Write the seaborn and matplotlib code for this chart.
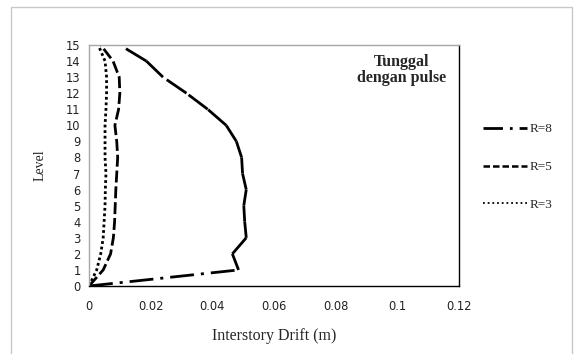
import matplotlib
matplotlib.use("Agg")
import matplotlib.pyplot as plt
from matplotlib.lines import Line2D
from matplotlib.patches import Rectangle
import seaborn as sns
import pandas as pd

# Storey levels and interstory drift (m) for each reduction factor
levels = list(range(16))
drift_r8 = [0.0, 0.0485, 0.0465, 0.0510, 0.0505, 0.0502, 0.0510, 0.0498, 0.0495,
            0.0478, 0.0445, 0.0385, 0.0316, 0.0240, 0.0186, 0.0100]
drift_r5 = [0.0, 0.0046, 0.0070, 0.0079, 0.0083, 0.0085, 0.0087, 0.0090, 0.0093,
            0.0090, 0.0084, 0.0096, 0.0100, 0.0098, 0.0078, 0.0038]
drift_r3 = [0.0, 0.0025, 0.0038, 0.0046, 0.0049, 0.0052, 0.0053, 0.0055, 0.0052,
            0.0052, 0.0052, 0.0055, 0.0057, 0.0057, 0.0052, 0.0030]
series_labels = ["R=8", "R=5", "R=3"]
x_ticks = [0, 0.02, 0.04, 0.06, 0.08, 0.1, 0.12]
x_tick_labels = ["0", "0.02", "0.04", "0.06", "0.08", "0.1", "0.12"]
title_text = "Tunggal\ndengan pulse"

sns.set_theme(style="white")
plt.rcParams["font.family"] = ["DejaVu Sans"]
serif = ["Liberation Serif", "DejaVu Serif"]

fig = plt.figure(figsize=(5.76, 3.54), dpi=100)
ax = fig.add_axes([89 / 576, 1 - 286 / 354, 370 / 576, 241 / 354])

lw = 2.0
style_r8 = (0, (8.6, 2.5, 1.1, 2.5))
style_r5 = (0, (4.3, 1.4))
style_r3 = (0, (1.0, 1.0))

# R=8: the dash pattern restarts on every storey segment
for i in range(len(levels) - 1):
    ax.plot(drift_r8[i:i + 2], levels[i:i + 2], color="black", lw=lw,
            linestyle=style_r8, solid_capstyle="butt")

df = pd.DataFrame({"level": levels, "R5": drift_r5, "R3": drift_r3})
sns.lineplot(data=df, x="R5", y="level", orient="y", sort=False, ax=ax,
             color="black", lw=lw, linestyle=style_r5)
sns.lineplot(data=df, x="R3", y="level", orient="y", sort=False, ax=ax,
             color="black", lw=lw, linestyle=style_r3)

ax.set_xlim(0, 0.12)
ax.set_ylim(0, 15)
ax.set_xticks(x_ticks)
ax.set_xticklabels(x_tick_labels)
ax.set_yticks(levels)
ax.set_yticklabels([str(v) for v in levels])
ax.tick_params(axis="both", length=0, labelsize=8.3, colors="#222222")
ax.tick_params(axis="x", pad=10)
ax.tick_params(axis="y", pad=6)

ax.set_xlabel("Interstory Drift (m)", family=serif, fontsize=11.5, labelpad=11)
ax.set_ylabel("Level", family=serif, fontsize=10, labelpad=14)

for side, col in [("left", "#a6a6a6"), ("top", "#a6a6a6"),
                  ("right", "black"), ("bottom", "black")]:
    ax.spines[side].set_visible(True)
    ax.spines[side].set_color(col)
    ax.spines[side].set_linewidth(1.0)

ax.text(0.1015, 13.45, title_text, ha="center", va="center",
        multialignment="center", family=serif, fontsize=11.5,
        fontweight="bold", linespacing=1.0)

handles = [
    Line2D([], [], color="black", lw=2.0, linestyle=(0, (7, 2.5, 1, 2.5))),
    Line2D([], [], color="black", lw=1.8, linestyle=(0, (2.6, 1.2))),
    Line2D([], [], color="black", lw=1.3, linestyle=(0, (1, 1.6))),
]
fig.legend(handles, series_labels, loc="center left",
           bbox_to_anchor=(483 / 576, 1 - 167 / 354), frameon=False,
           prop={"family": serif, "size": 9.5}, handlelength=3.3,
           handletextpad=0.25, labelspacing=1.95, borderpad=0, borderaxespad=0)

# light frame around the chart area
fig.add_artist(Rectangle((11 / 576, -0.1), 561 / 576, 1.1 - 7 / 354,
                         transform=fig.transFigure, fill=False,
                         ec="#c8c8c8", lw=1.0))

fig.savefig("out.png", dpi=100)
